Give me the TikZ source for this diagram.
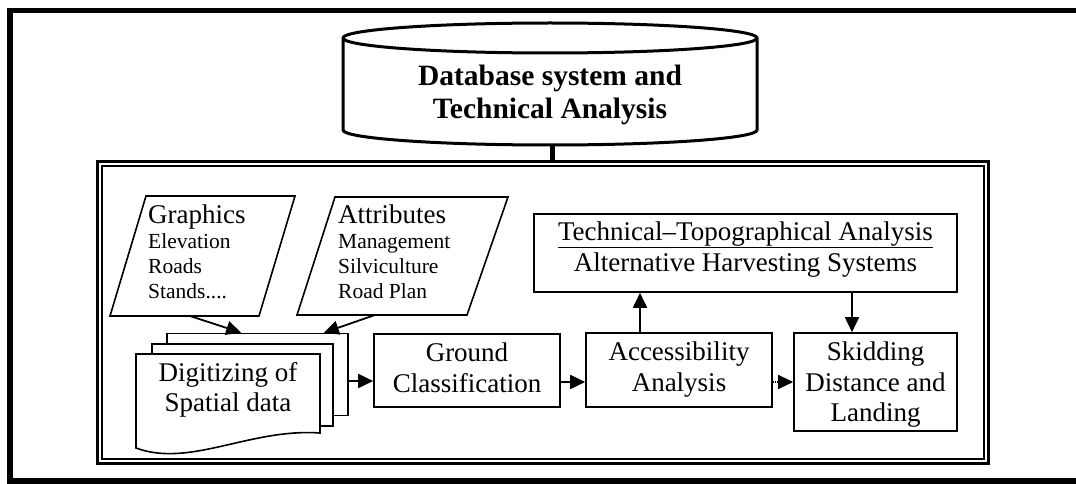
\documentclass[tikz,border=0pt]{standalone}
\usepackage{fontspec}
\setmainfont{Liberation Serif}
\usetikzlibrary{arrows.meta, positioning}

\begin{document}
\begin{tikzpicture}[
    x=1pt, y=-1pt,
    box/.style={rectangle, draw=black, line width=1.6pt, fill=white, inner sep=0pt, align=center, font=\fontsize{27}{31}\selectfont},
    sheet/.style={rectangle, draw=black, line width=1.6pt, fill=white, inner sep=0pt, minimum width=181pt, minimum height=82pt},
    outline/.style={draw=black, line width=1.6pt, fill=white},
    note/.style={inner sep=0pt, align=left, font=\fontsize{21.5}{25}\selectfont},
    arrow/.style={-{Triangle[length=15pt, width=14pt]}, line width=1.8pt},
    link/.style={line width=5pt}
]
\useasboundingbox (0,0) rectangle (1076,484);

% Outer frame, open on the right
\draw[line width=5.5pt] (1076,10.5) -- (10,10.5) -- (10,481) -- (1076,481);

% Database cylinder
\draw[line width=3pt, fill=white] (343,38) -- (343,130)
    arc[start angle=180, end angle=0, x radius=207, y radius=15] -- (757,38)
    arc[start angle=0, end angle=-180, x radius=207, y radius=15] -- cycle;
\draw[line width=3pt] (343,38) arc[start angle=180, end angle=0, x radius=207, y radius=15];
\node[align=center, font=\bfseries\fontsize{29.5}{33}\selectfont] (db) at (550,94.5) {Database system and\\Technical Analysis};
\coordinate (dbfoot) at (552,145);

% Double frame
\node[draw, line width=3pt, minimum width=891pt, minimum height=302pt, inner sep=0pt] (frame) at (543,312.5) {};
\draw[line width=2pt] ([shift={(6,6)}]frame.north west) rectangle ([shift={(-6,-6)}]frame.south east);
\draw[link] (dbfoot) -- (dbfoot |- frame.north);

% Inputs
\draw[outline] (146,196) -- (295,196) -- (259,316) -- (110,316) -- cycle;
\draw[outline] (335,197) -- (508,197) -- (467,315) -- (297,315) -- cycle;
\node[note, anchor=north west] (graphics) at (148,205) {{\fontsize{27}{29}\selectfont Graphics}\\Elevation\\Roads\\Stands....};
\node[note, anchor=north west] (attrib) at (338,205) {{\fontsize{27}{29}\selectfont Attributes}\\Management\\Silviculture\\Road Plan};
\coordinate (gfoot) at (190,316);
\coordinate (afoot) at (375,315);

% Digitizing stack
\node[sheet] (sheet3) at (257.5,374.5) {};
\node[sheet] (sheet2) at (242.5,385) {};
\draw[outline] (136,354) -- (320,354) -- (320,433)
    .. controls (250,428) and (190,468) .. (136,448) -- cycle;
\node[align=center, font=\fontsize{27}{30}\selectfont] (digit) at (228,390) {Digitizing of\\Spatial data};
\coordinate (dout) at (348,381);

% Main components
\node[box, minimum width=186pt, minimum height=73pt, text depth=6pt] (ground) at (467,370.5) {Ground\\Classification};
\node[box, minimum width=186pt, minimum height=74pt] (access) at (679,370) {Accessibility\\Analysis};
\node[box, minimum width=163pt, minimum height=98pt, text depth=0pt, font=\fontsize{27}{30.5}\selectfont] (skid) at (875.5,382) {Skidding\\Distance and\\Landing};
\node[box, minimum width=423pt, minimum height=78pt, text depth=13pt] (tech) at (745.5,253) {\underline{Technical–Topographical Analysis}\\Alternative Harvesting Systems};
\coordinate (up) at ([xshift=-39pt]access.north);
\coordinate (down) at ([xshift=-23.5pt]skid.north);

% Arrows
\draw[arrow] (gfoot) -- ([xshift=75pt]sheet3.north west);
\draw[arrow] (afoot) -- ([xshift=-25pt]sheet3.north east);
\draw[arrow] (dout) -- (dout -| ground.west);
\draw[arrow] ([yshift=-11.5pt]ground.east) -- ([yshift=-12pt]access.west);
\draw[arrow, line width=1.1pt, densely dotted] ([yshift=-12pt]access.east) -- (skid.west);
\draw[arrow] (up) -- (up |- tech.south);
\draw[arrow] (down |- tech.south) -- (down);
\end{tikzpicture}
\end{document}
